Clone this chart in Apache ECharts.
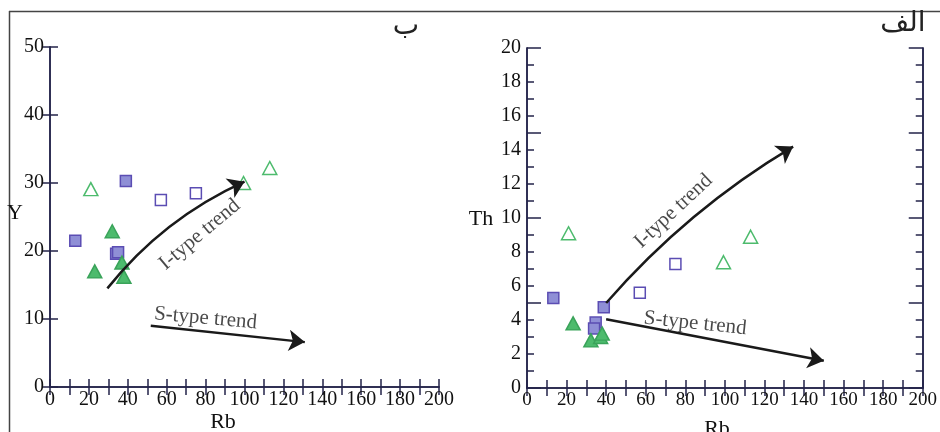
<!DOCTYPE html>
<html>
<head>
<meta charset="utf-8">
<script src="https://cdn.jsdelivr.net/npm/echarts@6/dist/echarts.min.js"></script>
<style>
html,body{margin:0;padding:0;background:#fff;}
#c{width:940px;height:432px;}
</style>
</head>
<body>
<div id="c"></div>
<script>
// ---- Data: panel ب (Y vs Rb) ----
const leftFilledSquares   = [[13,21.5],[39,30.3],[34,19.6],[35,19.8]];
const leftOpenSquares     = [[57,27.5],[75,28.5]];
const leftFilledTriangles = [[32,22.9],[23,17.0],[37,18.3],[38,16.2]];
const leftOpenTriangles   = [[21,29.1],[99.5,30.0],[113,32.2]];
// ---- Data: panel الف (Th vs Rb) ----
const rightFilledSquares   = [[13.3,5.3],[38.8,4.75],[34.7,3.85],[33.9,3.5]];
const rightOpenSquares     = [[57,5.6],[75,7.3]];
const rightFilledTriangles = [[23.3,3.8],[32.3,2.8],[37.2,3.0],[38,3.2]];
const rightOpenTriangles   = [[21,9.1],[99.3,7.4],[113,8.9]];
// ---- Trend arrows (data coordinates) ----
const leftIArrow  = [[29.5,14.5],[100,30.2]];
const leftSArrow  = [[51.8,9.0],[131,6.6]];
const rightIArrow = [[40,5.0],[134.5,14.2]];
const rightSArrow = [[40,4.05],[150,1.6]];
// ---- Trend labels ----
const leftILabel  = [77, 22.4];
const leftSLabel  = [80, 10.1];
const rightILabel = [74, 10.4];
const rightSLabel = [85, 3.8];
// ---- Axis settings ----
const rbTicks = {min:0, max:200, step:10, labelStep:20};
const yTicks  = {min:0, max:50, step:10};
const thTicks = {min:0, max:20, step:1, majorStep:5, labelStep:2};
const titles = {left:'ب', right:'الف'};

const AX = '#23234a';
const SERIF = 'Liberation Serif';

function xAx(grid, pos, showLabel){
  return {gridIndex:grid, type:'value', position:pos, min:rbTicks.min, max:rbTicks.max, interval:rbTicks.step,
    splitLine:{show:false},
    axisLine:{show:true, lineStyle:{color:AX, width:1.5}},
    axisTick:{show:true, inside:true, length:8, lineStyle:{color:AX, width:1.5}},
    axisLabel:{show:showLabel, margin:3, fontFamily:SERIF, fontSize: grid===1?19:20, color:'#111',
      formatter:v=> (v % rbTicks.labelStep === 0 ? String(v) : '')}
  };
}
function yAx(grid, pos, min, max, step, tickLen, showLabel, fmt){
  return {gridIndex:grid, type:'value', position:pos, min:min, max:max, interval:step,
    splitLine:{show:false},
    axisLine:{show:true, lineStyle:{color:AX, width:1.5}},
    axisTick:{show:true, inside:true, length:tickLen, lineStyle:{color:AX, width:1.5}},
    axisLabel:{show:showLabel, margin:6, fontFamily:SERIF, fontSize:20, color:'#111', formatter:fmt||(v=>String(v))}
  };
}

const sq = 11, tri = [14,13];
function scat(name, data, xi, yi, symbol, filled, kind){
  const isSq = kind==='sq';
  const fill = filled ? (isSq ? '#8f8fd6' : '#4dbb6d') : '#ffffff';
  const border = isSq ? '#5b4db3' : (filled ? '#3aa35a' : '#4dbb6d');
  return {type:'scatter', name:name, xAxisIndex:xi, yAxisIndex:yi, data:data, symbol:symbol,
    symbolSize: isSq ? sq : tri, z:3,
    itemStyle:{color:fill, borderColor:border, borderWidth:1.5, opacity:1}};
}
function arrow(coords, xi, yi, curv){
  return {type:'lines', coordinateSystem:'cartesian2d', xAxisIndex:xi, yAxisIndex:yi, z:4,
    symbol:['none','arrow'], symbolSize:16,
    lineStyle:{color:'#1a1a1a', width:2.5, curveness:curv, opacity:1},
    data:[{coords:coords}]};
}
function textMark(pos, text, rot, xi, yi){
  return {type:'scatter', xAxisIndex:xi, yAxisIndex:yi, data:[pos], symbolSize:0, z:5, silent:true,
    label:{show:true, position:'inside', formatter:text, rotate:rot, fontFamily:SERIF, fontSize:21, color:'#1a1a1a'}};
}

const chart = echarts.init(document.getElementById('c'), null, {renderer:'canvas'});
chart.setOption({
  animation:false,
  backgroundColor:'#ffffff',
  grid:[
    {left:50, top:47, width:389, height:340},
    {left:527, top:48, width:407, height:340}
  ],
  xAxis:[
    xAx(0,'bottom',true), xAx(0,'top',false),
    xAx(1,'bottom',true), xAx(1,'top',false)
  ],
  yAxis:[
    yAx(0,'left', yTicks.min, yTicks.max, yTicks.step, 8, true),
    yAx(0,'right', yTicks.min, yTicks.max, yTicks.step, 8, false),
    yAx(1,'left', thTicks.min, thTicks.max, thTicks.step, 7, true, v=>(v % thTicks.labelStep===0 ? String(v) : '')),
    yAx(1,'left', thTicks.min, thTicks.max, thTicks.majorStep, 14, false),
    yAx(1,'right', thTicks.min, thTicks.max, thTicks.step, 7, false),
    yAx(1,'right', thTicks.min, thTicks.max, thTicks.majorStep, 14, false)
  ],
  series:[
    arrow(leftIArrow,0,0,0.12), arrow(leftSArrow,0,0,0),
    arrow(rightIArrow,2,2,0.08), arrow(rightSArrow,2,2,0),
    scat('fs', leftFilledSquares,0,0,'rect',true,'sq'),
    scat('os', leftOpenSquares,0,0,'rect',false,'sq'),
    scat('ft', leftFilledTriangles,0,0,'triangle',true,'tri'),
    scat('ot', leftOpenTriangles,0,0,'triangle',false,'tri'),
    scat('fs2', rightFilledSquares,2,2,'rect',true,'sq'),
    scat('os2', rightOpenSquares,2,2,'rect',false,'sq'),
    scat('ft2', rightFilledTriangles,2,2,'triangle',true,'tri'),
    scat('ot2', rightOpenTriangles,2,2,'triangle',false,'tri'),
    textMark(leftILabel,'I-type trend',40,0,0),
    textMark(leftSLabel,'S-type trend',-5,0,0),
    textMark(rightILabel,'I-type trend',43,2,2),
    textMark(rightSLabel,'S-type trend',-6,2,2)
  ],
  graphic:[
    {type:'line', shape:{x1:9,y1:11.5,x2:940,y2:11.5}, style:{stroke:'#444', lineWidth:1.5}},
    {type:'line', shape:{x1:9.5,y1:11,x2:9.5,y2:432}, style:{stroke:'#444', lineWidth:1.5}},
    {type:'text', x:406, y:27, style:{text:titles.left, font:'28px "DejaVu Serif", "DejaVu Sans"', fill:'#222', textAlign:'center', textVerticalAlign:'middle'}},
    {type:'text', x:903, y:24, style:{text:titles.right, font:'28px "DejaVu Serif", "DejaVu Sans"', fill:'#222', textAlign:'center', textVerticalAlign:'middle'}},
    {type:'text', x:15, y:213, style:{text:'Y', font:'22px "Liberation Serif"', fill:'#111', textAlign:'center', textVerticalAlign:'middle'}},
    {type:'text', x:223, y:422, style:{text:'Rb', font:'22px "Liberation Serif"', fill:'#111', textAlign:'center', textVerticalAlign:'middle'}},
    {type:'text', x:481, y:219, style:{text:'Th', font:'22px "Liberation Serif"', fill:'#111', textAlign:'center', textVerticalAlign:'middle'}},
    {type:'text', x:717, y:429, style:{text:'Rb', font:'22px "Liberation Serif"', fill:'#111', textAlign:'center', textVerticalAlign:'middle'}}
  ]
});
</script>
</body>
</html>
